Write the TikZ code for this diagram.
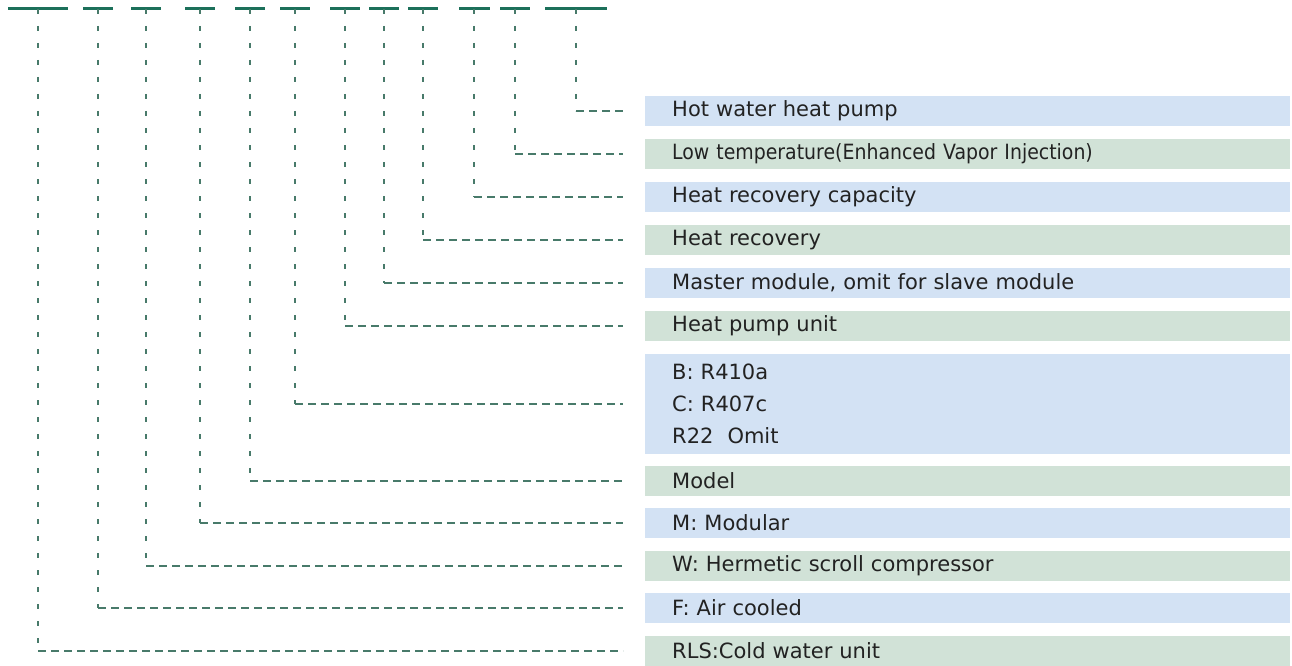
\documentclass[tikz,border=0pt]{standalone}
\usepackage{fontspec}
\setsansfont{DejaVu Sans}
\newfontfamily\narrowsans[FakeStretch=0.9]{DejaVu Sans}
\usetikzlibrary{positioning}
\definecolor{codeline}{RGB}{28,112,90}
\definecolor{leadline}{RGB}{72,122,106}
\definecolor{rowblue}{RGB}{211,226,244}
\definecolor{rowgreen}{RGB}{209,226,215}
\definecolor{rowtext}{RGB}{34,34,34}
\tikzset{
  seg/.style={fill=codeline,inner sep=0pt,minimum height=3pt},
  vlead/.style={draw=leadline,line width=1.2pt,dash pattern=on 5pt off 12pt},
  hlead/.style={draw=leadline,line width=1.2pt,dash pattern=on 8pt off 5pt,shorten >=22pt},
  row/.style={anchor=west,minimum width=645pt,minimum height=30pt,text width=591pt,inner xsep=27pt,inner ysep=0pt,
    align=left,text=rowtext,font=\sffamily\fontsize{21}{32}\selectfont},
  rowb/.style={row,fill=rowblue},
  rowg/.style={row,fill=rowgreen}
}

\begin{document}
\begin{tikzpicture}[x=1pt,y=-1pt]
  \useasboundingbox (0,0) rectangle (1292,666);
  % code segments along the top
  \foreach[count=\i] \x/\w in {38/60,98/30,146/30,200/30,250/30,295/30,345/30,384/30,423/30,474/31,515/30,576/62}
    \node[seg,minimum width=\w pt] (s\i) at (\x,9) {};
  % meaning of each segment
  \node[rowb] (r12) at (645,111) {Hot water heat pump};
  \node[rowg] (r11) at (645,154) {\narrowsans Low temperature(Enhanced Vapor Injection)};
  \node[rowb] (r10) at (645,197) {Heat recovery capacity};
  \node[rowg] (r9) at (645,240) {Heat recovery};
  \node[rowb] (r8) at (645,283) {Master module, omit for slave module};
  \node[rowg] (r7) at (645,326) {Heat pump unit};
  \node[rowb,minimum height=100pt] (r6) at (645,404) {B: R410a\\C: R407c\\R22\ \ Omit};
  \node[rowg] (r5) at (645,481) {Model};
  \node[rowb] (r4) at (645,523) {M: Modular};
  \node[rowg] (r3) at (645,566) {W: Hermetic scroll compressor};
  \node[rowb] (r2) at (645,608) {F: Air cooled};
  \node[rowg] (r1) at (645,651) {RLS:Cold water unit};
  % leaders
  \foreach \i in {1,...,12}{
    \coordinate (k\i) at (s\i |- r\i.west);
    \draw[vlead] (s\i.center) -- (k\i);
    \draw[hlead] (k\i) -- (r\i.west);
  }
\end{tikzpicture}
\end{document}
